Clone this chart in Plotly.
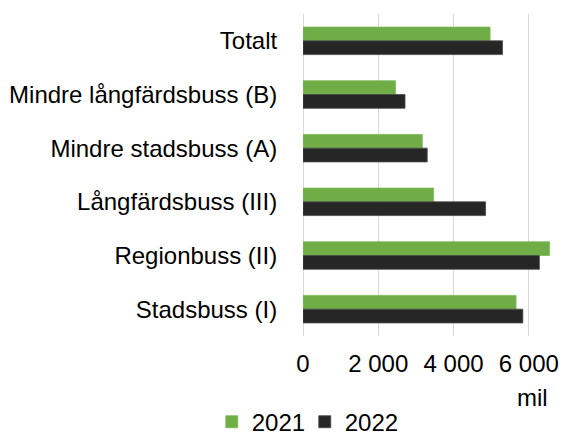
import plotly.graph_objects as go

categories = ["Totalt", "Mindre långfärdsbuss (B)", "Mindre stadsbuss (A)",
              "Långfärdsbuss (III)", "Regionbuss (II)", "Stadsbuss (I)"]
values_2021 = [4970, 2460, 3170, 3470, 6550, 5660]
values_2022 = [5300, 2710, 3300, 4850, 6280, 5840]
tick_vals = [0, 2000, 4000, 6000]
tick_text = ["0", "2 000", "4 000", "6 000"]

FONT = "Liberation Sans, Arial, sans-serif"
FS = 24

fig = go.Figure()
fig.add_trace(go.Bar(y=categories, x=values_2021, name="2021", orientation="h",
                     marker=dict(color="#70AD47", line=dict(color="#7DB858", width=0.8))))
fig.add_trace(go.Bar(y=categories, x=values_2022, name="2022", orientation="h",
                     marker=dict(color="#262626", line=dict(color="#4a4a4a", width=0.8))))

fig.update_layout(
    width=567, height=437,
    margin=dict(l=301, r=9, t=14, b=101),
    paper_bgcolor="white", plot_bgcolor="white",
    barmode="group", bargap=0.487, bargroupgap=0,
    font=dict(family=FONT, size=FS, color="#000000"),
    showlegend=True,
    legend=dict(orientation="h", xref="container", yref="container",
                x=0.5375, y=0.034, xanchor="center", yanchor="middle",
                font=dict(size=FS), itemwidth=30, tracegroupgap=0,
                entrywidth=48, entrywidthmode="pixels"),
    annotations=[dict(text="mil", xref="x", yref="paper", x=6100, y=-0.19,
                      xanchor="center", yanchor="middle", showarrow=False,
                      font=dict(size=FS, family=FONT, color="#000000"))],
)
fig.update_xaxes(range=[0, 6615], tickvals=tick_vals, ticktext=tick_text,
                 showgrid=True, gridcolor="#D9D9D9", gridwidth=1.3,
                 zeroline=True, zerolinecolor="#D9D9D9", zerolinewidth=1.3,
                 showline=False, ticks="outside", ticklen=6,
                 tickcolor="rgba(0,0,0,0)", fixedrange=True)
fig.update_yaxes(autorange="reversed", showgrid=False, showline=False,
                 ticks="outside", ticklen=20, tickcolor="rgba(0,0,0,0)",
                 fixedrange=True)

fig.write_html("out.html", config={"displayModeBar": False},
               post_script="document.body.style.margin='0';document.body.style.overflow='hidden';")
